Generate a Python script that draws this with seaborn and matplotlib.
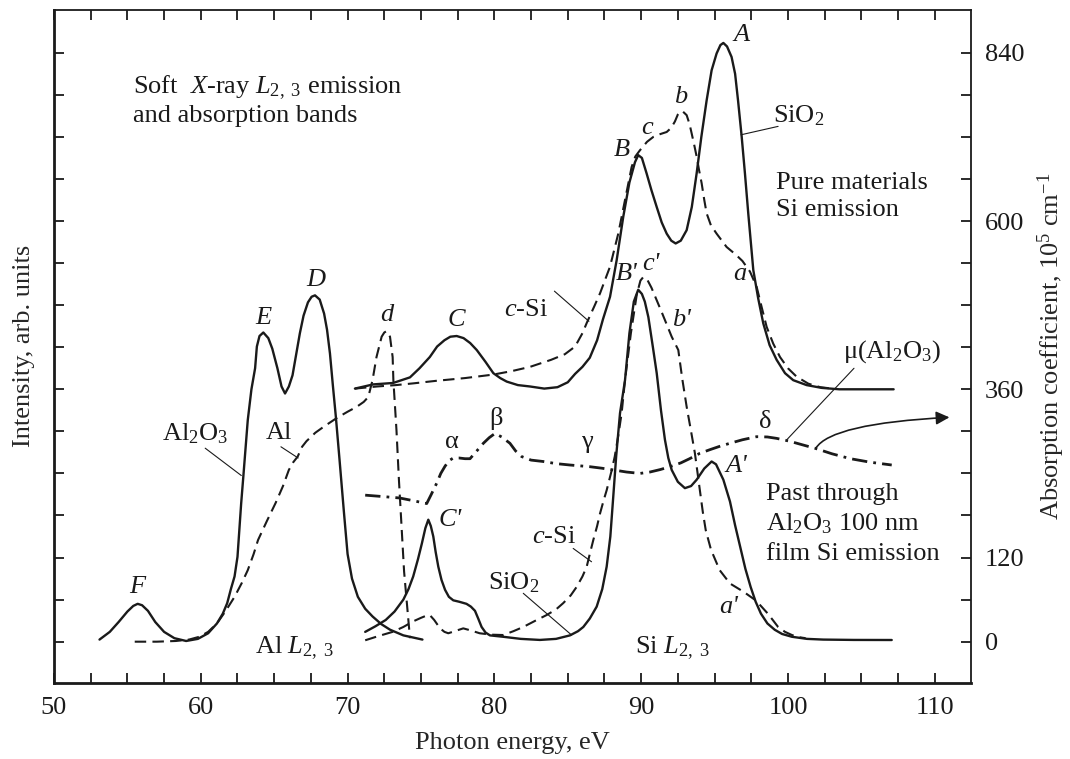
import numpy as np
import pandas as pd
import matplotlib
matplotlib.use("Agg")
from matplotlib import pyplot as plt
from matplotlib.ticker import FixedLocator, FuncFormatter, MultipleLocator
import seaborn as sns

# ---------------- data (eV, absorption-axis units) ----------------
# Al L2,3 emission of Al2O3 (solid)
al2o3_e = [53.1, 53.8, 54.4, 55.0, 55.4, 55.7, 56.0, 56.4, 56.9, 57.5, 58.2, 59.0, 59.8, 60.5,
           61.1, 61.5, 61.8, 62.05, 62.3, 62.5, 62.75, 62.9, 63.2, 63.45, 63.7, 63.82, 64.0, 64.26,
           64.6, 64.87, 65.22, 65.5, 65.74, 66.0, 66.25, 66.5, 66.75, 67.0, 67.3, 67.55, 67.78,
           68.1, 68.4, 68.6, 68.8, 69.0, 69.2, 69.45, 69.75, 70.0, 70.3, 70.7, 71.2, 71.7, 72.3,
           72.9, 73.8, 75.1]
al2o3_i = [3, 14, 28, 43, 51, 54, 52, 44, 28, 14, 5, 1, 4, 12,
           26, 40, 55, 75, 93, 121, 197, 236, 316, 360, 390, 421, 436, 441,
           433, 418, 390, 364, 354, 364, 380, 410, 440, 465, 484, 492, 494,
           488, 468, 445, 411, 365, 321, 260, 185, 125, 90, 64, 47, 36, 25,
           17, 9, 3]

# Al metal band with absorption edge d (dashed)
al_e = [55.5, 57.0, 58.3, 59.2, 59.9, 60.5, 61.1, 61.7, 62.3, 62.8, 63.2, 63.6, 63.9, 64.5,
        65.1, 65.6, 66.0, 66.3, 66.6, 66.9, 67.2, 67.8, 68.4, 69.26, 70.0, 70.62, 71.1, 71.41,
        71.7, 71.97, 72.32, 72.5, 72.66, 72.89, 73.07, 73.12, 73.33, 73.5, 73.85, 74.25]
al_i = [0, 0, 1, 3, 7, 14, 26, 44, 64, 84, 102, 125, 145, 172,
        198, 222, 245, 256, 264, 278, 286, 298, 307, 319, 328, 335, 342, 349,
        373, 406, 435, 441, 443, 435, 406, 373, 302, 230, 100, 5]

# pure SiO2, Si L2,3 (solid, upper)
sio2_e = [70.5, 71.75, 73.1, 74.25, 74.9, 75.6, 76.1, 76.6, 77.0, 77.43, 77.9, 78.35, 78.8,
          79.4, 79.93, 80.4, 80.84, 81.6, 82.43, 83.4, 84.3, 85.0, 85.5, 86.0, 86.5, 87.0,
          87.4, 87.88, 88.33, 88.78, 89.2, 89.58, 89.8, 90.05, 90.37, 90.7, 91.06, 91.4, 91.74,
          92.05, 92.35, 92.7, 93.1, 93.45, 93.78, 94.1, 94.46, 94.8, 95.14, 95.4, 95.6, 95.85,
          96.16, 96.4, 96.6, 96.85, 97.07, 97.3, 97.64, 97.97, 98.32, 98.75, 99.23, 99.8,
          100.36, 101.27, 102.3, 103.5, 107.2]
sio2_i = [361, 367, 369, 377, 390, 406, 421, 430, 435, 436, 433, 426, 416,
          399, 383, 376, 371, 366, 364, 361, 363, 370, 382, 392, 405, 430,
          460, 492, 544, 606, 655, 684, 694, 690, 668, 644, 620, 598, 582,
          572, 568, 572, 587, 620, 668, 720, 772, 815, 839, 851, 854, 849,
          834, 810, 772, 720, 668, 610, 530, 490, 454, 423, 402, 383,
          373, 366, 362, 360, 360]

# pure c-Si, Si L2,3 (dashed, upper)
csi_e = [70.5, 72.0, 73.3, 74.5, 76.0, 78.0, 79.93, 81.2, 82.43, 83.86, 84.8, 85.5, 86.0, 86.3,
         86.8, 87.2, 87.88, 88.44, 88.9, 89.35, 89.6, 89.92, 90.4, 90.83, 91.3, 91.74, 92.05,
         92.3, 92.5, 92.64, 92.85, 93.1, 93.3, 93.44, 93.6, 93.78, 93.95, 94.12, 94.3, 94.46,
         94.75, 95.14, 95.82, 96.45, 96.9, 97.41, 97.87, 98.2, 98.55, 99.0, 99.46, 100.0,
         100.59, 101.39, 102.2, 103.0]
csi_i = [361, 364, 366, 368.5, 372, 376, 381, 386, 392, 402, 410, 421, 440, 455,
         478, 497, 535, 582, 630, 677, 692, 701, 713, 720, 724, 727, 733,
         742, 752, 756, 756, 751, 738, 725, 710, 692, 672, 654, 630, 611,
         594, 582, 563, 552, 543, 528, 506, 478, 449, 425, 406, 390,
         378, 368, 363, 361]

# SiO2 emission through 100 nm Al2O3 film (solid, lower)
film_sio2_e = [71.2, 71.9, 72.6, 73.2, 73.8, 74.15, 74.47, 74.8, 75.06, 75.3, 75.5, 75.67, 75.84,
               76.0, 76.18, 76.4, 76.64, 76.9, 77.2, 77.6, 78.1, 78.4, 78.68, 78.9, 79.13, 79.4,
               79.7, 80.6, 81.8, 83.1, 84.2, 85.15, 85.7, 86.06, 86.5, 86.97, 87.35, 87.65, 87.9,
               88.1, 88.3, 88.56, 88.9, 89.2, 89.5, 89.8, 90.05, 90.25, 90.49, 90.8, 91.06, 91.35,
               91.62, 91.85, 92.08, 92.5, 92.98, 93.4, 93.78, 94.3, 94.8, 95.1, 95.6, 96.05,
               96.4, 96.75, 97.1, 97.46, 97.8, 98.16, 98.6, 99.1, 99.6, 100.27, 101.3, 102.4,
               104.5, 107.07]
film_sio2_i = [14, 22, 31, 43, 60, 75, 93, 118, 140, 162, 174, 165, 150,
               128, 107, 88, 74, 64, 59, 57, 54, 50, 44, 33, 21, 13,
               9, 7, 4, 2.5, 4, 9, 15, 21, 33, 50, 75, 107, 150,
               207, 265, 326, 373, 440, 485, 502, 496, 485, 463, 420, 383, 330,
               288, 262, 245, 228, 219, 222, 231, 247, 257, 253, 231, 200,
               166, 135, 104, 78, 57, 40, 26, 17, 11, 7, 4, 3,
               2.5, 2.4]

# c-Si emission through 100 nm Al2O3 film (dashed, lower)
film_csi_e = [71.2, 72.1, 73.07, 73.8, 74.47, 75.0, 75.35, 75.6, 75.9, 76.3, 76.6, 76.86, 77.3,
              77.88, 78.4, 79.0, 79.8, 80.6, 81.3, 81.97, 82.8, 83.56, 84.2, 84.69, 85.2, 85.6,
              86.0, 86.29, 86.5, 86.74, 87.0, 87.2, 87.45, 87.65, 88.0, 88.2, 88.45, 88.67, 88.9,
              89.3, 89.7, 89.95, 90.14, 90.4, 90.7, 91.06, 91.4, 91.75, 92.08, 92.53, 92.8, 93.1,
              93.4, 93.66, 94.0, 94.2, 94.4, 94.76, 95.35, 96.05, 96.99, 97.8, 98.2, 98.63, 99.0,
              99.33, 99.8, 100.27, 100.7, 101.2]
film_csi_i = [2, 8, 14, 21, 29, 34, 37, 38, 31, 19, 14, 12, 15,
              19, 16, 12, 10, 9.5, 15, 21, 30, 38, 46, 55, 66, 78,
              93, 107, 125, 145, 165, 183, 202, 216, 245, 264, 295, 326, 373,
              440, 495, 515, 520, 517, 505, 487, 470, 452, 435, 416, 375, 335,
              300, 269, 216, 185, 159, 131, 102, 83, 71, 59, 50, 40, 30,
              21, 14, 9.5, 6.5, 5]

# absorption coefficient mu(Al2O3) (dash-dot)
mu_e = [71.2, 72.4, 73.54, 74.5, 75.39, 75.7, 76.07, 76.35, 76.63, 76.9, 77.2, 77.6, 78.0, 78.34,
        78.8, 79.25, 79.65, 80.04, 80.5, 81.06, 81.45, 81.86, 82.5, 83.33, 84.2, 85.15, 86.0,
        86.5, 87.3, 88.1, 89.0, 89.92, 90.6, 91.3, 91.96, 92.7, 93.3, 94.0, 94.7, 95.4, 96.05,
        96.9, 97.87, 98.6, 99.23, 100.1, 101.04, 101.9, 103.0, 104.26, 105.6, 107.07]
mu_v = [209, 207, 205, 201, 197, 210, 226, 240, 250, 258, 262, 262, 261, 261,
        272, 283, 291, 297, 292, 283, 272, 264, 259, 257, 254, 252, 250.5,
        249.6, 247.5, 245, 242, 240, 242, 245.5, 249.6, 255, 261, 268.7, 274, 279, 283,
        288, 292.4, 292, 290, 286, 280.5, 275.5, 268, 261, 256, 252]

x_ticks = [50, 60, 70, 80, 90, 100, 110]
y_ticks = list(range(0, 841, 60))
y_labelled = [0, 120, 360, 600, 840]

# ---------------- style ----------------
sns.set_theme(style="ticks")
plt.rcParams['font.family'] = ['Liberation Serif', 'DejaVu Serif']
plt.rcParams['mathtext.fontset'] = 'custom'
plt.rcParams['mathtext.rm'] = 'Liberation Serif'
plt.rcParams['mathtext.it'] = 'Liberation Serif:italic'
plt.rcParams['mathtext.bf'] = 'Liberation Serif:bold'
FS = 19

fig = plt.figure(figsize=(10.7, 7.59), dpi=100)
ax = fig.add_axes([54 / 1070, 76.3 / 759, 916.7 / 1070, 672.7 / 759])


def draw(e, v, lw, dashes=None):
    df = pd.DataFrame({'E': e, 'V': v})
    sns.lineplot(data=df, x='E', y='V', ax=ax, color='k', linewidth=lw,
                 sort=False, estimator=None, legend=False)
    ln = ax.lines[-1]
    if dashes is not None:
        ln.set_dashes(dashes)
    ln.set_solid_joinstyle('round')
    return ln


draw(al2o3_e, al2o3_i, 1.7)
draw(al_e, al_i, 1.5, (5.5, 3.0))
draw(sio2_e, sio2_i, 1.7)
draw(csi_e, csi_i, 1.5, (5.5, 3.0))
draw(film_sio2_e, film_sio2_i, 1.7)
draw(film_csi_e, film_csi_i, 1.5, (5.5, 3.0))
draw(mu_e, mu_v, 2.0, (5.5, 2.2, 1.0, 2.2))

# arrow leaving the mu(Al2O3) curve towards the right axis
ax.annotate('', xy=(111.0, 320), xytext=(101.9, 276),
            arrowprops=dict(arrowstyle='-|>', color='k', lw=1.2, mutation_scale=20,
                            shrinkA=0, shrinkB=0,
                            connectionstyle='angle3,angleA=58,angleB=3'))

# thin leader lines for curve labels
leaders = [((99.33, 735), (96.8, 723)),
           ((84.09, 500), (86.44, 457)),
           ((60.3, 276), (62.76, 237)),
           ((65.46, 278), (66.63, 262)),
           ((104.5, 390), (99.92, 288)),
           ((85.37, 133), (86.62, 114)),
           ((81.97, 69), (85.26, 9.5))]
for (x0, y0), (x1, y1) in leaders:
    ax.plot([x0, x1], [y0, y1], color='k', lw=0.8)

# ---------------- texts ----------------
def t(x, y, s, **kw):
    kw.setdefault('ha', 'center')
    kw.setdefault('va', 'center')
    ax.text(x, y, s, fontsize=FS, color='k', **kw)


for s, x, y in [('A', 96.84, 865), ('B', 88.67, 701), ('c', 90.37, 732), ('b', 92.69, 777),
                ('a', 96.7, 524), ("B'", 89.0, 524), ("c'", 90.65, 538), ("b'", 92.76, 459),
                ("A'", 96.5, 250), ("a'", 95.93, 50), ("C'", 76.98, 174), ('C', 77.4, 459),
                ('D', 67.85, 516), ('E', 64.26, 462), ('d', 72.66, 466), ('F', 55.67, 78.5)]:
    t(x, y, s, style='italic')

for s, x, y in [('α', 77.09, 285), ('β', 80.09, 318), ('γ', 86.29, 285), ('δ', 98.43, 314)]:
    t(x, y, s)

t(99.0, 750, r'SiO$_2$', ha='left')
t(82.15, 473, r'$c$-Si')
t(59.6, 297, r'Al$_2$O$_3$')
t(65.3, 297, 'Al')
t(107.07, 414, r'μ(Al$_2$O$_3$)')
t(84.05, 149, r'$c$-Si')
t(81.35, 84, r'SiO$_2$')

t(55.39, 782, r'Soft  $X$-ray $L_{2,\ 3}$ emission', ha='left', va='baseline')
t(55.39, 741, 'and absorption bands', ha='left', va='baseline')
t(99.21, 646, 'Pure materials', ha='left', va='baseline')
t(99.21, 607, 'Si emission', ha='left', va='baseline')
t(98.51, 202, 'Past through', ha='left', va='baseline')
t(98.51, 159, r'Al$_2$O$_3$ 100 nm', ha='left', va='baseline')
t(98.51, 117, 'film Si emission', ha='left', va='baseline')
t(63.7, -17, r'Al $L_{2,\ 3}$', ha='left', va='baseline')
t(89.6, -17, r'Si $L_{2,\ 3}$', ha='left', va='baseline')

# ---------------- axes ----------------
ax.set_xlim(50, 112.45)
ax.set_ylim(-58.5, 901)
ax.xaxis.set_major_locator(FixedLocator(x_ticks))
ax.xaxis.set_minor_locator(MultipleLocator(2.5))
ax.yaxis.set_major_locator(FixedLocator(y_ticks))
ax.yaxis.set_major_formatter(FuncFormatter(
    lambda v, p: str(int(round(v))) if int(round(v)) in y_labelled else ''))
ax.tick_params(which='both', direction='in', top=True, right=True, left=True, bottom=True,
               length=7, width=1.3, colors='k', labelsize=FS)
ax.tick_params(axis='y', labelleft=False, labelright=True, pad=10)
ax.tick_params(axis='x', pad=10)

for side in ['left', 'bottom']:
    ax.spines[side].set_linewidth(2.0)
for side in ['right', 'top']:
    ax.spines[side].set_linewidth(1.3)
for sp in ax.spines.values():
    sp.set_color('k')

ax.set_xlabel('Photon energy, eV', fontsize=FS, va='top')
ax.xaxis.set_label_coords(0.5, -0.074)
ax.set_ylabel('Intensity, arb. units', fontsize=FS, va='center')
ax.yaxis.set_label_coords(-0.033, 0.5)
ax.text(1.0876, 0.5, r'Absorption coefficient, 10$^5$ cm$^{-1}$', transform=ax.transAxes,
        rotation=90, ha='center', va='center', fontsize=FS)

fig.savefig('out.png', dpi=100)
